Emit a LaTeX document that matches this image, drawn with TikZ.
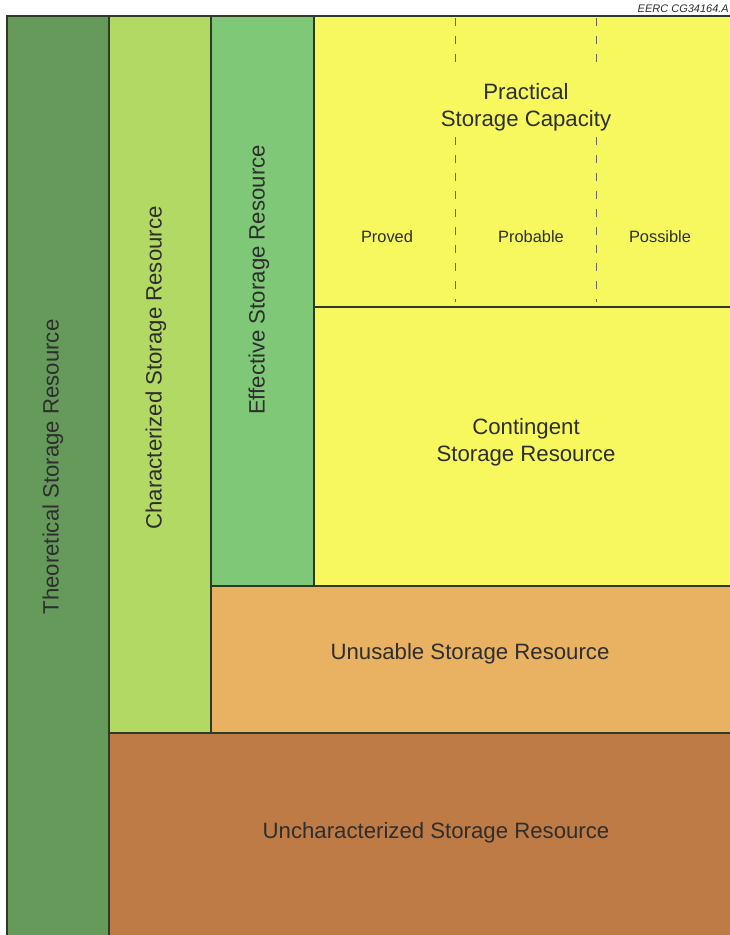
\documentclass[tikz,border=0pt]{standalone}
\usepackage{fontspec}
\setmainfont{Liberation Sans}
\definecolor{cTheo}{HTML}{659A5B}
\definecolor{cChar}{HTML}{B2D963}
\definecolor{cEff}{HTML}{7EC877}
\definecolor{cYel}{HTML}{F6F85E}
\definecolor{cUnus}{HTML}{E8B262}
\definecolor{cUnch}{HTML}{BE7B46}
\definecolor{cLine}{HTML}{2E3A26}
\definecolor{cText}{HTML}{2E2E2E}
\begin{document}
\begin{tikzpicture}[x=1pt,y=-1pt,
  panel/.style={draw=cLine,line width=1.6pt},
  big/.style={text=cText,font=\fontsize{22.2}{27}\selectfont,align=center},
  small/.style={text=cText,font=\fontsize{16.4}{20}\selectfont},
  divline/.style={draw=gray!80!black,line width=0.8pt,dash pattern=on 8pt off 10pt}]
\useasboundingbox (0,0) rectangle (730,935);
\fill[white] (0,0) rectangle (730,935);
% panels
\path[panel,fill=cTheo] (7,16) rectangle (109,940);
\path[panel,fill=cChar] (109,16) rectangle (211,733);
\path[panel,fill=cEff] (211,16) rectangle (314,586);
\path[panel,fill=cYel] (314,16) rectangle (740,307);
\path[panel,fill=cYel] (314,307) rectangle (740,586);
\path[panel,fill=cUnus] (211,586) rectangle (740,733);
\path[panel,fill=cUnch] (109,733) rectangle (740,940);
% dashed dividers
\coordinate (d1t) at (455,18);
\coordinate (d1m) at (455,70);
\coordinate (d1n) at (455,137);
\coordinate (d1b) at (455,302);
\coordinate (d2t) at (596,18);
\coordinate (d2m) at (596,70);
\coordinate (d2n) at (596,137);
\coordinate (d2b) at (596,302);
\draw[divline] (d1t) -- (d1m);
\draw[divline] (d1n) -- (d1b);
\draw[divline] (d2t) -- (d2m);
\draw[divline] (d2n) -- (d2b);
% labels
\node[text=cText,font=\fontsize{11}{12}\selectfont\itshape,anchor=base east,inner sep=1pt] (ref) at (730,12) {EERC CG34164.A};
\node[big,rotate=90] (theo) at (53,467) {Theoretical Storage Resource};
\node[big,rotate=90] (char) at (156,368) {Characterized Storage Resource};
\node[big,rotate=90] (eff) at (259,280) {Effective Storage Resource};
\node[big] (prac) at (526,107) {Practical\\Storage Capacity};
\node[small] (prov) at (387,237) {Proved};
\node[small] (prob) at (531,237) {Probable};
\node[small] (poss) at (660,237) {Possible};
\node[big] (cont) at (526,442) {Contingent\\Storage Resource};
\node[big] (unus) at (470,654) {Unusable Storage Resource};
\node[big] (unch) at (436,833) {Uncharacterized Storage Resource};
\end{tikzpicture}
\end{document}
